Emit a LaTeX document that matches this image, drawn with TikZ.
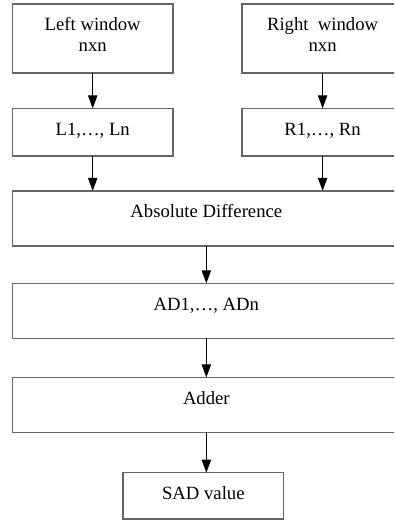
\documentclass[tikz,border=0pt]{standalone}
\usepackage{fontspec}
\setmainfont{Liberation Serif}
\usetikzlibrary{positioning,arrows.meta}
\tikzset{
  blk/.style={draw=black!60, line width=0.8pt, inner sep=0pt, outer sep=0pt, minimum width=86pt,
    text height=14.5pt, text depth=#1, align=center,
    font=\fontsize{10}{11.2}\selectfont},
  wide/.style={minimum width=207.6pt},
  flow/.style={line width=0.7pt, -{Triangle[width=5pt,length=7pt]}}
}
\begin{document}
\begin{tikzpicture}[node distance=19pt and 37pt]
    \useasboundingbox (0,0) rectangle (210.8pt,-278.2pt);
    \clip (0,0) rectangle (210.8pt,-278.2pt);

    % the two windows
    \node[blk=11.7pt, text height=25.2pt, anchor=north west] (lwin) at (6.6pt,-2.1pt) {Left window\\nxn};
    \node[blk=11.7pt, text height=25.2pt, right=of lwin] (rwin) {Right\ \ window\\nxn};
    \node[blk=11pt, below=of lwin] (lpix) {L1,…, Ln};
    \node[blk=11pt, below=of rwin] (rpix) {R1,…, Rn};

    % the common chain
    \node[blk=14.9pt, wide, below=18.6pt of lpix.south west, anchor=north west] (absd) {Absolute Difference};
    \node[blk=14.9pt, wide, below=20.1pt of absd] (adn) {AD1,…, ADn};
    \node[blk=14.9pt, wide, below=20.9pt of adn] (add) {Adder};
    \node[blk=10.3pt, below=21.6pt of add, xshift=-1.6pt] (sad) {SAD value};

    \draw[flow] (lwin) -- (lpix);
    \draw[flow] (rwin) -- (rpix);
    \draw[flow] (lpix) -- (lpix |- absd.north);
    \draw[flow] (rpix) -- (rpix |- absd.north);
    \draw[flow] (absd) -- (adn);
    \draw[flow] (adn) -- (add);
    \draw[flow] (add) -- (add |- sad.north);
\end{tikzpicture}
\end{document}
